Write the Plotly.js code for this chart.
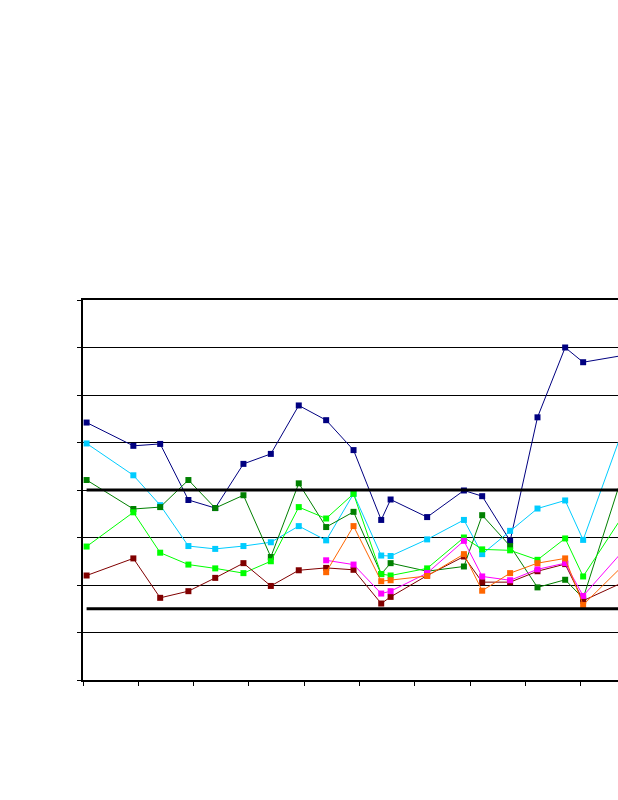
<!DOCTYPE html>
<html>
<head>
<meta charset="utf-8">
<script src="https://cdn.plot.ly/plotly-3.0.1.min.js"></script>
<style>
  html, body { margin: 0; padding: 0; background: #fff; overflow: hidden; }
  #chart { width: 618px; height: 800px; }
</style>
</head>
<body>
<div id="chart"></div>
<script>
// Sample positions (time axis, in half-tick units)
const xVals = [0.13, 1.82, 2.79, 3.81, 4.78, 5.80, 6.79, 7.80, 8.79, 9.78,
               10.78, 11.12, 12.44, 13.77, 14.43, 15.44, 16.43, 17.43, 18.08, 19.8];

const navySeries = [5.42, 4.93, 4.97, 3.79, 3.62, 4.55, 4.76, 5.78, 5.47, 4.84,
                    3.37, 3.80, 3.43, 3.99, 3.87, 2.93, 5.53, 7.00, 6.69, 6.86];
const cyanSeries = [4.98, 4.31, 3.68, 2.82, 2.76, 2.82, 2.90, 3.24, 2.94, 3.92,
                    2.62, 2.61, 2.96, 3.37, 2.65, 3.14, 3.61, 3.78, 2.95, 5.73];
const darkGreenSeries = [4.21, 3.60, 3.64, 4.21, 3.62, 3.89, 2.59, 4.14, 3.22, 3.54,
                         2.23, 2.46, 2.29, 2.39, 3.47, 2.82, 1.95, 2.11, 1.72, 4.86];
const limeSeries = [2.81, 3.53, 2.68, 2.43, 2.35, 2.25, 2.50, 3.64, 3.40, 3.92,
                    2.23, 2.20, 2.35, 3.00, 2.75, 2.73, 2.53, 2.98, 2.18, 3.71];
const maroonSeries = [2.20, 2.56, 1.73, 1.87, 2.15, 2.46, 1.98, 2.31, 2.36, 2.32,
                      1.61, 1.75, 2.20, 2.60, 2.06, 2.06, 2.29, 2.44, 1.67, 2.13];
const magentaSeries = [null, null, null, null, null, null, null, null, 2.52, 2.43,
                       1.82, 1.87, 2.25, 2.93, 2.18, 2.10, 2.33, 2.46, 1.77, 2.90];
const orangeSeries = [null, null, null, null, null, null, null, null, 2.27, 3.24,
                      2.08, 2.10, 2.19, 2.65, 1.88, 2.25, 2.46, 2.56, 1.58, 2.57];

const upperLimit = 4;
const lowerLimit = 1.5;

const seriesList = [
  {y: navySeries, color: '#000080'},
  {y: cyanSeries, color: '#00CCFF'},
  {y: darkGreenSeries, color: '#008000'},
  {y: limeSeries, color: '#00FF00'},
  {y: maroonSeries, color: '#800000'},
  {y: magentaSeries, color: '#FF00FF'},
  {y: orangeSeries, color: '#FF6600'}
];

const traces = seriesList.map(s => ({
  type: 'scatter',
  mode: 'lines+markers',
  x: xVals,
  y: s.y,
  line: {color: s.color, width: 1},
  marker: {symbol: 'square', size: 6, color: s.color, line: {width: 0}},
  connectgaps: false,
  hoverinfo: 'skip'
}));

const xEnds = [xVals[0], xVals[xVals.length - 1]];
[upperLimit, lowerLimit].forEach(v => {
  traces.push({
    type: 'scatter',
    mode: 'lines',
    x: xEnds,
    y: [v, v],
    line: {color: '#000000', width: 3},
    hoverinfo: 'skip'
  });
});

const layout = {
  width: 618,
  height: 800,
  margin: {l: 83, r: 0, t: 300, b: 120, pad: 0},
  paper_bgcolor: '#ffffff',
  plot_bgcolor: '#ffffff',
  showlegend: false,
  xaxis: {
    range: [0, 19.34],
    showgrid: false,
    zeroline: false,
    showline: true,
    linecolor: '#000000',
    linewidth: 2,
    mirror: true,
    ticks: 'outside',
    ticklen: 4,
    tickwidth: 1,
    tickcolor: '#000000',
    tick0: 0,
    dtick: 2,
    showticklabels: false
  },
  yaxis: {
    range: [0, 8],
    showgrid: true,
    gridcolor: '#000000',
    gridwidth: 1,
    zeroline: false,
    showline: true,
    linecolor: '#000000',
    linewidth: 2,
    ticks: 'outside',
    ticklen: 4,
    tickwidth: 1,
    tickcolor: '#000000',
    tick0: 0,
    dtick: 1,
    showticklabels: false
  }
};

Plotly.newPlot('chart', traces, layout, {staticPlot: true, displayModeBar: false});
</script>
</body>
</html>
